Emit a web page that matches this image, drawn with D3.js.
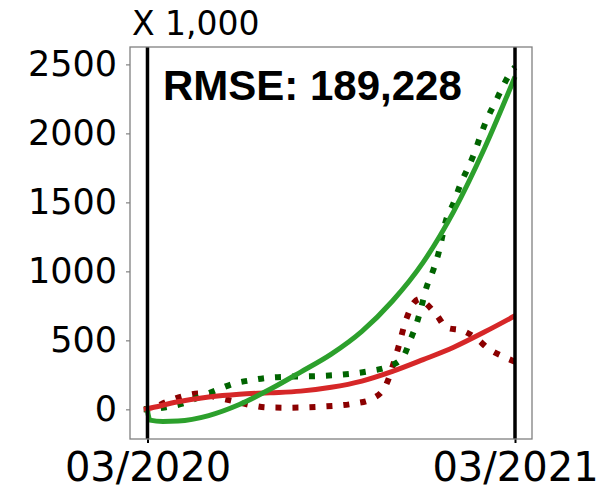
<!DOCTYPE html>
<html>
<head>
<meta charset="utf-8">
<script src="https://cdn.jsdelivr.net/npm/d3@7"></script>
<style>
  body { margin: 0; background: #fff; }
  svg { display: block; }
</style>
</head>
<body>
<div id="chart"></div>
<script>
// months since 03/2020 and values (in thousands)
var fitMonths   = [0, 0.08, 0.5, 1, 2, 3, 4, 5, 6, 7, 8, 9, 10, 11, 12];
var greenFit    = [-10, -78, -88, -85, -45, 35, 145, 270, 400, 565, 785, 1065, 1435, 1890, 2410];
var redFitMonths = [-0.12, 0, 1, 2, 3, 4, 5, 6, 7, 8, 9, 10, 11, 12];
var redFit      = [0, 5, 55, 90, 110, 120, 132, 160, 205, 275, 360, 450, 560, 678];

var redObsMonths = [-0.12, 0, 0.63, 1.17, 1.71, 2.26, 2.8, 3.35, 3.89, 4.49, 5.63, 6.78, 7.32, 7.76, 8.14, 8.46, 8.7, 8.9, 9.09, 9.44, 9.78, 10.29, 10.69, 11.15, 11.67, 12];
var redObs       = [0, 0, 55, 96, 116, 87, 60, 31, 14, 12, 19, 43, 75, 164, 410, 660, 773, 800, 768, 683, 591, 570, 522, 437, 377, 345];

var greenObsMonths = [-0.12, 0, 0.6, 1.2, 1.7, 2.26, 2.8, 3.35, 3.89, 4.49, 5.0, 5.63, 6.2, 6.78, 7.32, 7.86, 8.35, 8.57, 8.79, 8.95, 9.1, 9.33, 9.5, 9.75, 9.99, 10.2, 10.44, 10.67, 10.86, 11.08, 11.35, 11.6, 11.87, 12];
var greenObs       = [0, 0, 15, 45, 90, 140, 185, 210, 228, 236, 238, 242, 249, 261, 280, 309, 381, 497, 623, 749, 877, 1009, 1130, 1372, 1493, 1620, 1739, 1855, 1975, 2101, 2222, 2338, 2446, 2480];

var yTicks = [0, 500, 1000, 1500, 2000, 2500];
var xTicks = [0, 12];
var xTickLabels = ["03/2020", "03/2021"];
var markers = [0, 12];

var width = 605, height = 490,
  plotL = 130, plotR = 532, plotT = 47, plotB = 439;

var x = d3.scaleLinear().domain([-0.571, 12.555]).range([plotL, plotR]);
var y = d3.scaleLinear().domain([-215, 2626]).range([plotB, plotT]);

var svg = d3.select("#chart").append("svg")
  .attr("width", width)
  .attr("height", height);

svg.append("rect").attr("width", width).attr("height", height).attr("fill", "#fff");

svg.append("clipPath").attr("id", "plot")
  .append("rect")
  .attr("x", plotL).attr("y", plotT)
  .attr("width", plotR - plotL).attr("height", plotB - plotT);

var pts = function(ms, vs) {
  return ms.map(function(m, i) { return [m, vs[i]]; });
};

var line = d3.line()
  .x(function(d) { return x(d[0]); })
  .y(function(d) { return y(d[1]); })
  .curve(d3.curveMonotoneX);

var g = svg.append("g").attr("clip-path", "url(#plot)");

// observed (dotted)
g.append("path")
  .attr("d", line(pts(redObsMonths, redObs)))
  .attr("fill", "none").attr("stroke", "#8b0000")
  .attr("stroke-width", 6).attr("stroke-dasharray", "6 11");
g.append("path")
  .attr("d", line(pts(greenObsMonths, greenObs)))
  .attr("fill", "none").attr("stroke", "#006400")
  .attr("stroke-width", 6).attr("stroke-dasharray", "6 11");

// fitted (solid)
g.append("path")
  .attr("d", line(pts(redFitMonths, redFit)))
  .attr("fill", "none").attr("stroke", "#d62728")
  .attr("stroke-width", 5);
g.append("path")
  .attr("d", line(pts(fitMonths, greenFit)))
  .attr("fill", "none").attr("stroke", "#2ca02c")
  .attr("stroke-width", 5);

// vertical markers
g.selectAll("line.mark").data(markers).enter().append("line")
  .attr("class", "mark")
  .attr("x1", function(d) { return x(d); })
  .attr("x2", function(d) { return x(d); })
  .attr("y1", plotT).attr("y2", plotB)
  .attr("stroke", "#000").attr("stroke-width", 3.5);

// axes
var yAxis = svg.append("g")
  .attr("transform", "translate(" + plotL + ",0)")
  .call(d3.axisLeft(y).tickValues(yTicks).tickSize(4).tickPadding(9).tickFormat(d3.format("d")));
yAxis.select(".domain").remove();
yAxis.selectAll(".tick line").attr("stroke", "#808080").attr("stroke-width", 1.2);
yAxis.selectAll(".tick text")
  .attr("fill", "#000")
  .style("font-family", "'DejaVu Sans', sans-serif")
  .style("font-size", "35px");

var xAxis = svg.append("g")
  .attr("transform", "translate(0," + plotB + ")")
  .call(d3.axisBottom(x).tickValues(xTicks).tickSize(4).tickPadding(10)
    .tickFormat(function(d, i) { return xTickLabels[i]; }));
xAxis.select(".domain").remove();
xAxis.selectAll(".tick line").attr("stroke", "#000").attr("stroke-width", 2);
xAxis.selectAll(".tick text")
  .attr("fill", "#000")
  .style("font-family", "'DejaVu Sans', sans-serif")
  .style("font-size", "40px");

// frame
svg.append("rect")
  .attr("x", plotL).attr("y", plotT)
  .attr("width", plotR - plotL).attr("height", plotB - plotT)
  .attr("fill", "none").attr("stroke", "#808080").attr("stroke-width", 1.3);

svg.append("text")
  .attr("x", 132).attr("y", 35)
  .style("font-family", "'DejaVu Sans', sans-serif")
  .style("font-size", "33px")
  .text("X 1,000");

svg.append("text")
  .attr("x", 163).attr("y", 100)
  .style("font-family", "'Liberation Sans', Arial, sans-serif")
  .style("font-weight", "bold")
  .style("font-size", "42px")
  .text("RMSE: 189,228");
</script>
</body>
</html>
